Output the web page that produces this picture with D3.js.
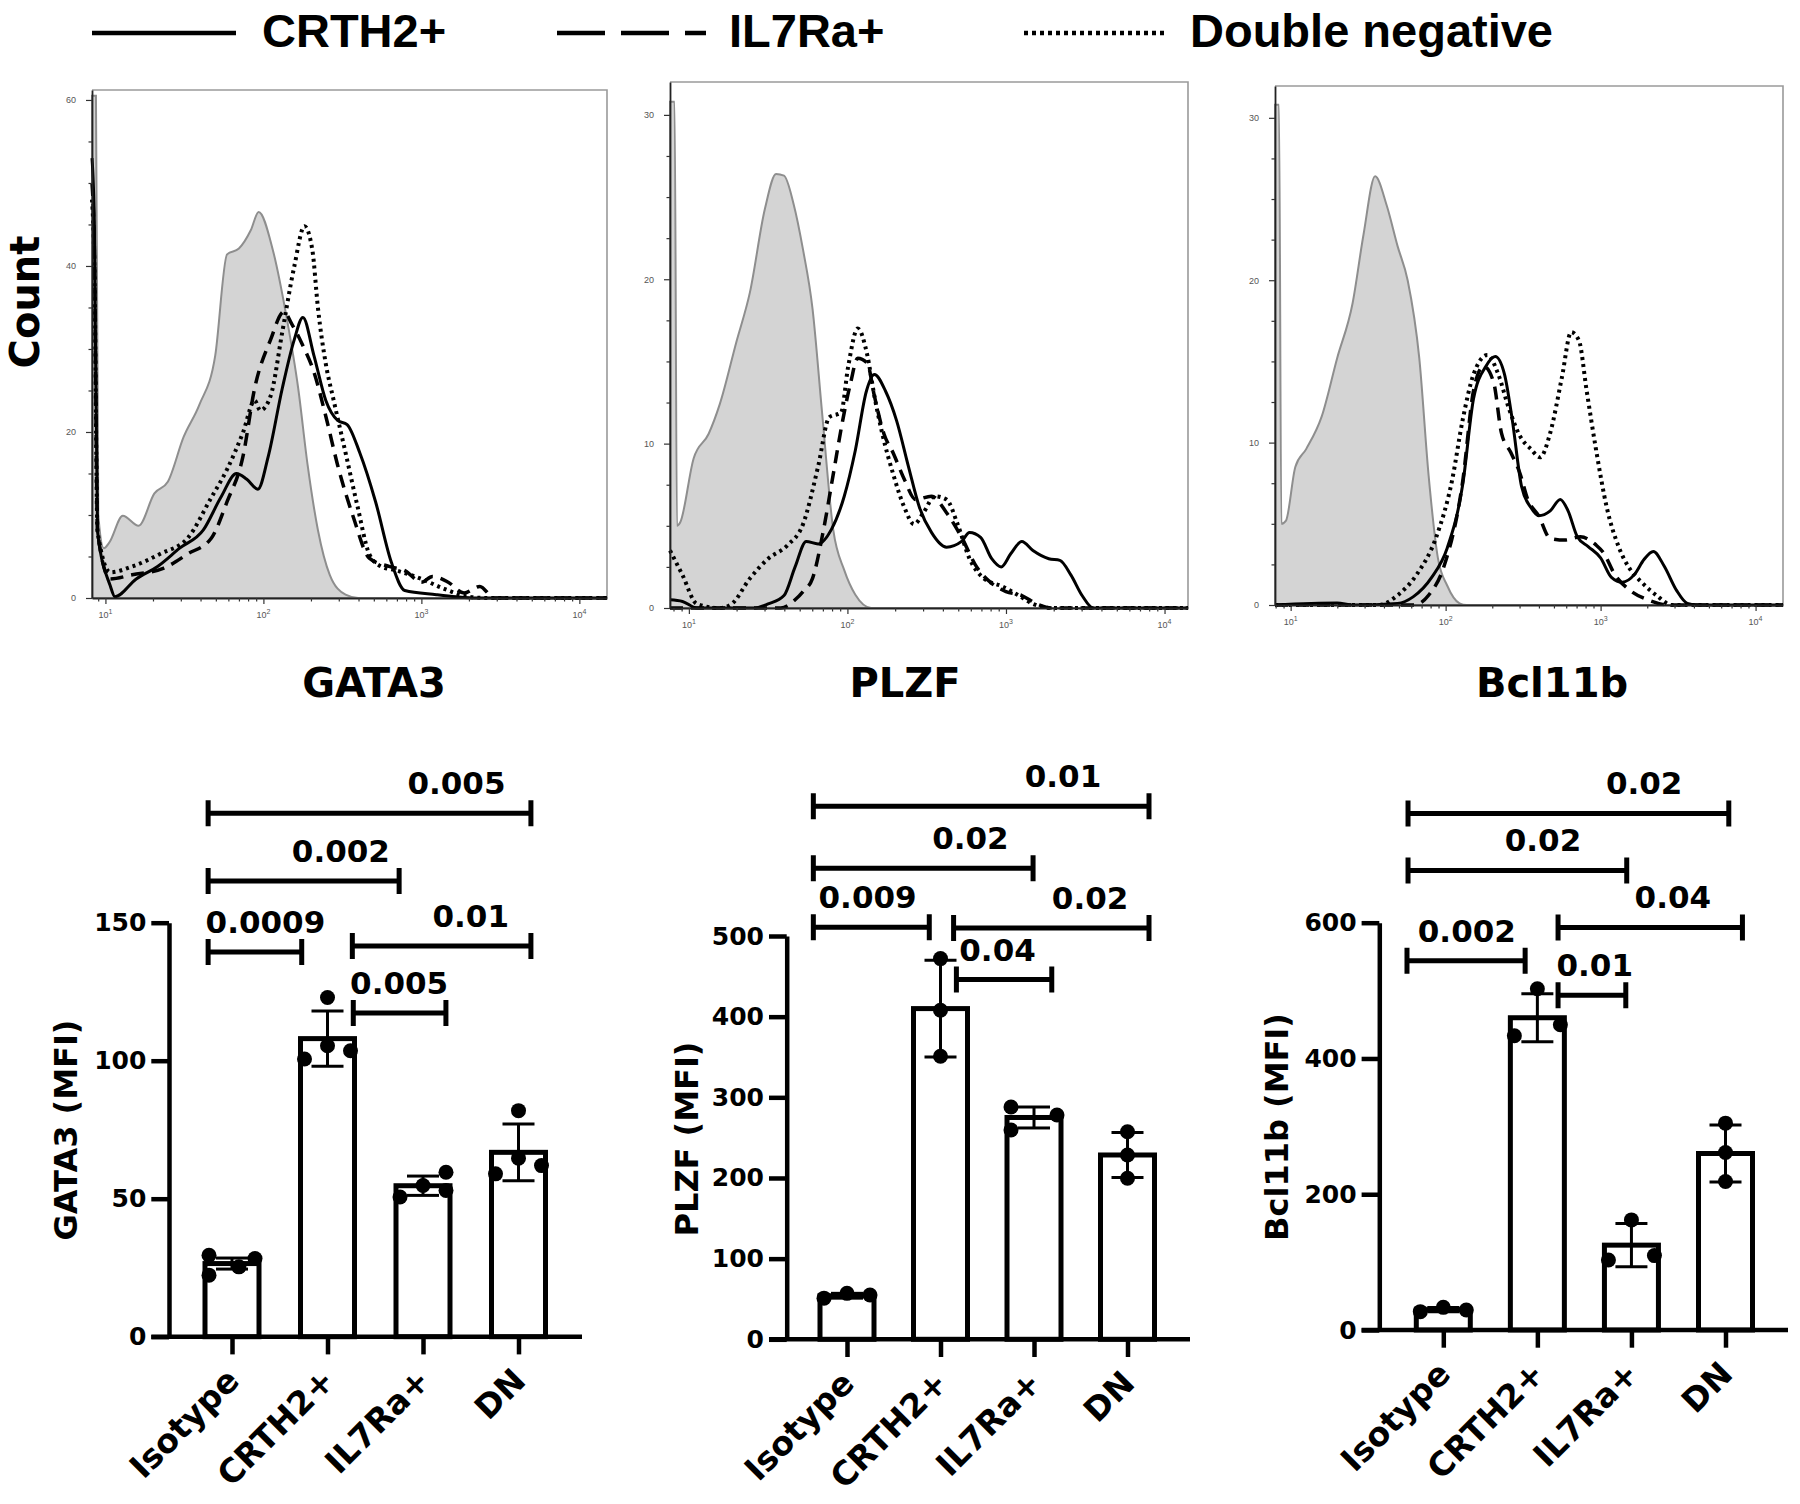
<!DOCTYPE html>
<html><head><meta charset="utf-8">
<script src="https://cdn.jsdelivr.net/npm/d3@7"></script>
<style>body{margin:0;background:#fff}</style>
</head><body>
<svg id="chart" width="1800" height="1504"></svg>
<script>
// ================= DATA =================
const seriesNames = ["CRTH2+", "IL7Ra+", "Double negative"];
const markers = ["GATA3", "PLZF", "Bcl11b"];
const categories = ["Isotype", "CRTH2+", "IL7Ra+", "DN"];

// Histogram tick labels
const histXTicks = [1, 2, 3, 4];                 // log10 decades
const histYTicks = [[0, 20, 40, 60], [0, 10, 20, 30], [0, 10, 20, 30]];

// Histograms: [log10 intensity, count]
const gata3Iso = [[0.915,60.5],[0.94,60.5],[0.955,10],[0.99,6],[1.025,6.7],[1.11,9.9],[1.21,8.7],[1.31,12.6],[1.395,14],[1.495,19.4],[1.595,23.3],[1.695,29.2],[1.77,41.4],[1.845,42.1],[1.92,44.3],[1.97,46.5],[2.06,41.9],[2.145,34],[2.22,25.3],[2.28,16],[2.345,8.2],[2.42,2.8],[2.52,0.4],[2.6,0],[4.175,0]];
const gata3Crth2 = [[0.915,53],[0.93,45],[0.95,8],[1.03,1.5],[1.06,0.15],[1.195,2.3],[1.33,3.8],[1.47,6],[1.62,8.2],[1.73,12.1],[1.83,15],[1.895,14.3],[1.965,13.1],[2.03,17],[2.12,25.3],[2.195,31.1],[2.25,33.8],[2.32,29.2],[2.395,23.8],[2.47,21.4],[2.53,20.9],[2.61,17.5],[2.71,11.6],[2.81,4.3],[2.895,0.9],[3.095,0.4],[3.22,0.15],[3.35,0],[4.175,0]];
const gata3Il7 = [[0.915,50],[0.93,42],[0.95,8],[1.03,2.3],[1.17,2.8],[1.37,3.6],[1.52,5.3],[1.67,7.2],[1.77,11.6],[1.87,17],[1.945,25.3],[2.045,31.1],[2.13,34.5],[2.18,33],[2.245,30.6],[2.32,27.2],[2.395,21.9],[2.47,16],[2.57,9.7],[2.67,4.8],[2.795,3.8],[2.895,3.3],[3.0,1.9],[3.07,2.6],[3.17,1.9],[3.27,0.6],[3.37,1.4],[3.46,0],[4.175,0]];
const gata3Dn = [[0.915,48],[0.93,40],[0.95,8],[1.03,3.1],[1.17,3.8],[1.345,5.3],[1.52,7.2],[1.67,12.1],[1.77,15.5],[1.87,19.9],[1.945,23.8],[1.98,22.6],[2.045,24.3],[2.12,32.1],[2.195,39.9],[2.26,44.8],[2.31,41.9],[2.345,35],[2.395,28.2],[2.445,23.8],[2.52,17.5],[2.595,11.1],[2.67,5.3],[2.745,3.8],[2.845,3.3],[3.0,2.3],[3.145,1.1],[3.3,0.15],[3.42,0],[4.175,0]];

const plzfIso = [[0.881,30.8],[0.91,30.8],[0.925,5.0],[0.945,5.2],[1.03,9.1],[1.125,10.6],[1.195,12.4],[1.30,16.2],[1.385,19.2],[1.48,24.3],[1.55,26.4],[1.6,26.3],[1.66,24.6],[1.72,21.8],[1.78,18.2],[1.84,11.9],[1.91,4.8],[1.98,2.3],[2.05,0.8],[2.15,0],[4.148,0]];
const plzfCrth2 = [[0.881,0.5],[0.96,0.4],[1.05,0],[1.41,0],[1.5,0.25],[1.6,0.76],[1.67,2.5],[1.74,4.05],[1.815,3.9],[1.9,4.8],[1.98,6.8],[2.05,9.6],[2.12,13.2],[2.17,14.2],[2.24,13.2],[2.31,11.4],[2.385,8.6],[2.455,6.1],[2.53,4.6],[2.625,3.7],[2.72,4.05],[2.77,4.6],[2.84,4.3],[2.91,3.0],[2.97,2.5],[3.03,3.3],[3.1,4.05],[3.17,3.5],[3.27,3.0],[3.34,2.9],[3.41,2.0],[3.48,0.76],[3.55,0],[4.148,0]];
const plzfIl7 = [[0.881,0],[1.58,0],[1.67,0.5],[1.72,1.0],[1.78,1.8],[1.85,4.8],[1.91,8.1],[1.97,11.4],[2.02,13.7],[2.065,15.2],[2.125,14.9],[2.17,12.9],[2.23,10.6],[2.29,9.4],[2.36,7.8],[2.43,6.6],[2.53,6.8],[2.625,5.8],[2.72,4.3],[2.815,2.5],[2.91,1.5],[3.0,1.0],[3.1,0.76],[3.195,0.25],[3.29,0],[4.148,0]];
const plzfDn = [[0.881,3.5],[0.96,2.0],[1.05,0.25],[1.195,0],[1.27,0.25],[1.385,1.8],[1.5,3.0],[1.62,3.8],[1.72,5.1],[1.815,8.6],[1.885,11.6],[1.96,11.9],[2.005,14.7],[2.065,17.0],[2.125,15.4],[2.17,12.9],[2.22,10.6],[2.29,8.1],[2.36,6.1],[2.42,5.1],[2.48,5.8],[2.55,6.8],[2.625,6.6],[2.695,5.1],[2.77,3.0],[2.86,1.8],[2.98,1.3],[3.08,0.76],[3.17,0.25],[3.29,0],[4.148,0]];

const bclIso = [[0.899,30.8],[0.925,30.8],[0.94,5.0],[0.97,5.2],[1.03,8.5],[1.10,9.6],[1.2,11.6],[1.3,15.2],[1.4,18.6],[1.47,22.8],[1.545,26.4],[1.62,24.6],[1.69,22.1],[1.755,20.0],[1.83,15.2],[1.89,8.0],[1.95,2.9],[2.01,1.2],[2.09,0.1],[2.135,0],[4.177,0]];
const bclCrth2 = [[0.899,0],[1.3,0.12],[1.4,0],[1.69,0.1],[1.79,0.5],[1.91,1.7],[2.01,3.5],[2.11,7.4],[2.18,12.7],[2.26,14.7],[2.32,15.3],[2.38,14.2],[2.43,11.4],[2.49,7.3],[2.55,6.0],[2.6,5.5],[2.675,5.8],[2.74,6.5],[2.79,5.8],[2.85,4.2],[2.92,3.6],[3.0,2.9],[3.07,1.7],[3.14,1.4],[3.22,1.9],[3.28,2.8],[3.34,3.3],[3.41,2.4],[3.49,0.9],[3.56,0.1],[3.63,0],[4.177,0]];
const bclIl7 = [[0.899,0],[1.8,0],[1.89,0.6],[1.99,2.4],[2.11,7.6],[2.18,13.2],[2.245,14.7],[2.31,13.7],[2.36,10.6],[2.42,9.4],[2.48,8.1],[2.53,6.5],[2.6,5.5],[2.675,4.1],[2.77,4.0],[2.87,4.2],[2.97,3.7],[3.02,3.2],[3.09,1.9],[3.19,0.9],[3.31,0.3],[3.44,0],[4.177,0]];
const bclDn = [[0.899,0],[1.57,0],[1.69,0.6],[1.815,1.9],[1.94,4.2],[2.04,7.6],[2.11,11.4],[2.18,14.2],[2.27,15.4],[2.34,14.2],[2.405,12.2],[2.48,10.4],[2.55,9.6],[2.61,9.1],[2.675,10.6],[2.75,14.0],[2.81,16.8],[2.86,16.3],[2.91,13.2],[2.97,9.6],[3.04,6.0],[3.12,3.5],[3.19,2.2],[3.265,1.4],[3.36,0.6],[3.46,0],[4.177,0]];

// Bar charts (MFI): means, SD and individual points [value, jitter column]
const barYTicks = [[0, 50, 100, 150], [0, 100, 200, 300, 400, 500], [0, 200, 400, 600]];
const barYLabels = ["GATA3 (MFI)", "PLZF (MFI)", "Bcl11b (MFI)"];

const gata3Mean = [26.5, 108, 54.7, 66.8];
const gata3SD = [2.0, 10, 3.5, 10.3];
const gata3Points = [
  [[29.5,-1],[22.3,-1],[25.3,0.3],[28.3,1]],
  [[122.9,0],[100.6,-1],[105.4,0],[103.6,1]],
  [[50.6,-1],[54.8,0],[59.6,1],[53.0,1]],
  [[81.9,0],[59.0,-1],[64.7,0],[62.0,1]]];

const plzfMean = [54, 410, 275, 228.5];
const plzfSD = [3, 60, 13, 28];
const plzfPoints = [
  [[51,-1],[57,0],[55,1]],
  [[472,0],[408,0],[351,0]],
  [[288,-1],[259.5,-1],[278,1]],
  [[257.4,0],[228.5,0],[199.6,0]]];

const bclMean = [30, 460, 125, 260];
const bclSD = [3, 35.5, 32, 42];
const bclPoints = [
  [[27,-1],[33.4,0],[29.5,1]],
  [[502.7,0],[433.4,-1],[449.6,1]],
  [[162.2,0],[103.2,-1],[109.6,1]],
  [[304.7,0],[261.4,0],[218.7,0]]];

// Significance brackets: [from (category index), to (category index), level (MFI), p label, label position (category index)]
const gata3Brackets = [
  [-0.25, 3.13, 189.7, "0.005", 2.35],
  [-0.25, 1.75, 165.1, "0.002", 1.14],
  [-0.25, 0.73, 139.4, "0.0009", 0.35],
  [1.26, 3.13, 141.6, "0.01", 2.50],
  [1.27, 2.24, 117.3, "0.005", 1.75]];
const plzfBrackets = [
  [-0.36, 3.23, 661, "0.01", 2.31],
  [-0.36, 1.99, 584, "0.02", 1.32],
  [-0.36, 0.88, 511, "0.009", 0.22],
  [1.14, 3.23, 510, "0.02", 2.60],
  [1.17, 2.19, 446, "0.04", 1.61]];
const bclBrackets = [
  [-0.375, 3.035, 761, "0.02", 2.135],
  [-0.375, 1.95, 677, "0.02", 1.06],
  [1.22, 3.18, 593, "0.04", 2.44],
  [-0.386, 0.87, 544, "0.002", 0.25],
  [1.22, 1.94, 493, "0.01", 1.61]];

// ================= DRAWING =================
const svg = d3.select("#chart");
const BOLD = "'DejaVu Sans', sans-serif";
const LEG = "'Liberation Sans', Arial, sans-serif";
const lineStyles = [
  {dash: null, width: 3},
  {dash: "13,8", width: 3.5},
  {dash: "3,4", width: 4}
];

// ---- Legend ----
const legendLayout = [[92, 236, 262], [557, 706, 729], [1024, 1165, 1190]];
const legendDash = [null, "48,16", "4,4"];
const leg = svg.append("g");
seriesNames.forEach((name, i) => {
  const [x1, x2, tx] = legendLayout[i];
  leg.append("line").attr("x1", x1).attr("x2", x2).attr("y1", 33).attr("y2", 33)
    .attr("stroke", "#000").attr("stroke-width", 4.5)
    .attr("stroke-dasharray", legendDash[i]);
  leg.append("text").attr("x", tx).attr("y", 47).text(name)
    .attr("font-family", LEG).attr("font-weight", "bold").attr("font-size", 47).attr("fill", "#000");
});

// ---- Histograms ----
const histLayout = [
  {left: 92, right: 607, top: 90, bottom: 598, xd: [0.915, 4.175], yMax: 61.2, minor: 5, titleX: 374},
  {left: 670, right: 1188, top: 82, bottom: 608, xd: [0.881, 4.148], yMax: 32, minor: 2.5, titleX: 905},
  {left: 1275, right: 1783, top: 86, bottom: 605, xd: [0.899, 4.177], yMax: 31.96, minor: 2.5, titleX: 1552}
];
const histData = [
  [gata3Iso, gata3Crth2, gata3Il7, gata3Dn],
  [plzfIso, plzfCrth2, plzfIl7, plzfDn],
  [bclIso, bclCrth2, bclIl7, bclDn]
];

histLayout.forEach((L, p) => {
  const g = svg.append("g");
  const x = d3.scaleLinear().domain(L.xd).range([L.left, L.right]);
  const y = d3.scaleLinear().domain([0, L.yMax]).range([L.bottom, L.top]);
  const [iso, ...lines] = histData[p];

  const area = d3.area().x(d => x(d[0])).y0(y(0)).y1(d => y(d[1])).curve(d3.curveMonotoneX);
  g.append("path").datum(iso).attr("d", area)
    .attr("fill", "#d4d4d4").attr("stroke", "#8e8e8e").attr("stroke-width", 2);

  // frame (top/right)
  g.append("path").attr("d", `M${L.left},${L.top}H${L.right}V${L.bottom}`)
    .attr("fill", "none").attr("stroke", "#9a9a9a").attr("stroke-width", 1.6);

  const line = d3.line().x(d => x(d[0])).y(d => y(d[1])).curve(d3.curveMonotoneX);
  lines.forEach((s, i) => {
    g.append("path").datum(s).attr("d", line).attr("fill", "none")
      .attr("stroke", "#000").attr("stroke-width", lineStyles[i].width)
      .attr("stroke-dasharray", lineStyles[i].dash).attr("stroke-linejoin", "round");
  });

  // x axis
  const minorX = [];
  for (let k = 0; k <= 4; k++) for (let m = 2; m <= 9; m++) {
    const v = k + Math.log10(m);
    if (v > L.xd[0] && v < L.xd[1]) minorX.push(v);
  }
  const xa = g.append("g").attr("transform", `translate(0,${L.bottom})`)
    .call(d3.axisBottom(x).tickValues(histXTicks).tickSize(6).tickSizeOuter(0).tickFormat(""));
  g.append("g").attr("transform", `translate(0,${L.bottom})`)
    .call(d3.axisBottom(x).tickValues(minorX).tickSize(3.5).tickSizeOuter(0).tickFormat(""))
    .select(".domain").remove();
  xa.select(".domain").attr("stroke", "#222").attr("stroke-width", 1.8);
  g.selectAll(".tick line").attr("stroke", "#333").attr("stroke-width", 1.2);
  histXTicks.forEach(t => {
    const tx = g.append("text").attr("x", x(t)).attr("y", L.bottom + 20)
      .attr("text-anchor", "middle").attr("font-family", LEG).attr("font-size", 9).attr("fill", "#555");
    tx.append("tspan").text("10");
    tx.append("tspan").attr("dy", -4).attr("font-size", 7).text(t);
  });

  // y axis
  const ya = g.append("g").attr("transform", `translate(${L.left},0)`)
    .call(d3.axisLeft(y).tickValues(histYTicks[p]).tickSize(6).tickSizeOuter(0).tickPadding(10));
  ya.select(".domain").attr("stroke", "#222").attr("stroke-width", 1.8);
  ya.selectAll("text").attr("font-family", LEG).attr("font-size", 9).attr("fill", "#555");
  const minorY = d3.range(0, L.yMax, L.minor).filter(v => !histYTicks[p].includes(v));
  g.append("g").attr("transform", `translate(${L.left},0)`)
    .call(d3.axisLeft(y).tickValues(minorY).tickSize(3.5).tickFormat(""))
    .select(".domain").remove();
  g.selectAll(".tick line").attr("stroke", "#333").attr("stroke-width", 1.2);

  // title
  g.append("text").attr("x", L.titleX).attr("y", 697).attr("text-anchor", "middle")
    .attr("font-family", BOLD).attr("font-weight", "bold").attr("font-size", 40).text(markers[p]);
});

// Count label
svg.append("text").attr("transform", "translate(25,302) rotate(-90)").attr("dy", "0.36em")
  .attr("text-anchor", "middle").attr("font-family", BOLD).attr("font-weight", "bold")
  .attr("font-size", 40).text("Count");

// ---- Bar charts ----
const barLayout = [
  {axisX: 169, y0: 1336.7, yTop: 922.7, yMax: 150, c0: 232, c3: 518.5, right: 582, labelX: 65, labelY: 1130},
  {axisX: 786.7, y0: 1339.3, yTop: 936, yMax: 500, c0: 847, c3: 1127.5, right: 1190, labelX: 686, labelY: 1139},
  {axisX: 1379.3, y0: 1330, yTop: 922.7, yMax: 600, c0: 1443.3, c3: 1725.5, right: 1788, labelX: 1276, labelY: 1127}
];
const barData = [
  {mean: gata3Mean, sd: gata3SD, pts: gata3Points, br: gata3Brackets},
  {mean: plzfMean, sd: plzfSD, pts: plzfPoints, br: plzfBrackets},
  {mean: bclMean, sd: bclSD, pts: bclPoints, br: bclBrackets}
];
const TICK = 17.7, AX = 4.5;

barLayout.forEach((L, p) => {
  const D = barData[p];
  const g = svg.append("g");
  const x = d3.scalePoint().domain(categories).range([L.c0, L.c3]);
  const y = d3.scaleLinear().domain([0, L.yMax]).range([L.y0, L.yTop]);
  const step = x.step();
  const ix = v => x(categories[0]) + v * step;
  const jit = 23;

  // bars
  g.selectAll("rect.bar").data(categories).join("rect").attr("class", "bar")
    .attr("x", d => x(d) - 27).attr("width", 54)
    .attr("y", (d, i) => y(D.mean[i])).attr("height", (d, i) => y(0) - y(D.mean[i]))
    .attr("fill", "#fff").attr("stroke", "#000").attr("stroke-width", 5);

  // error bars
  categories.forEach((c, i) => {
    const hi = y(D.mean[i] + D.sd[i]), lo = y(D.mean[i] - D.sd[i]);
    g.append("line").attr("x1", x(c)).attr("x2", x(c)).attr("y1", hi).attr("y2", lo)
      .attr("stroke", "#000").attr("stroke-width", 3);
    [hi, lo].forEach(yy => g.append("line").attr("x1", x(c) - 16).attr("x2", x(c) + 16)
      .attr("y1", yy).attr("y2", yy).attr("stroke", "#000").attr("stroke-width", 3));
  });

  // points
  categories.forEach((c, i) => {
    g.selectAll(null).data(D.pts[i]).join("circle")
      .attr("cx", d => x(c) + d[1] * jit).attr("cy", d => y(d[0])).attr("r", 7.5).attr("fill", "#000");
  });

  // y axis
  const ya = g.append("g").attr("transform", `translate(${L.axisX},0)`)
    .call(d3.axisLeft(y).tickValues(barYTicks[p]).tickSize(TICK).tickSizeOuter(0).tickPadding(5));
  ya.select(".domain").attr("stroke", "#000").attr("stroke-width", AX);
  ya.selectAll(".tick line").attr("stroke", "#000").attr("stroke-width", AX);
  ya.selectAll("text").attr("font-family", BOLD).attr("font-weight", "bold").attr("font-size", 25).attr("fill", "#000");

  // x axis
  const xa = g.append("g").attr("transform", `translate(0,${L.y0})`)
    .call(d3.axisBottom(x).tickSize(TICK).tickSizeOuter(0).tickFormat(""));
  xa.select(".domain").remove();
  xa.selectAll(".tick line").attr("stroke", "#000").attr("stroke-width", AX);
  g.append("line").attr("x1", L.axisX - TICK).attr("x2", L.right).attr("y1", L.y0).attr("y2", L.y0)
    .attr("stroke", "#000").attr("stroke-width", AX);

  // category labels
  categories.forEach(c => {
    g.append("text").attr("transform", `translate(${x(c) + 9},${L.y0 + 46}) rotate(-45)`)
      .attr("text-anchor", "end").attr("font-family", BOLD).attr("font-weight", "bold")
      .attr("font-size", 33).text(c);
  });

  // y label
  g.append("text").attr("transform", `translate(${L.labelX},${L.labelY}) rotate(-90)`).attr("dy", "0.36em")
    .attr("text-anchor", "middle").attr("font-family", BOLD).attr("font-weight", "bold")
    .attr("font-size", 32).text(barYLabels[p]);

  // brackets
  D.br.forEach(([a, b, lvl, lab, lx]) => {
    const yy = y(lvl);
    g.append("path").attr("d", `M${ix(a)},${yy - 13}V${yy + 13}M${ix(a)},${yy}H${ix(b)}M${ix(b)},${yy - 13}V${yy + 13}`)
      .attr("fill", "none").attr("stroke", "#000").attr("stroke-width", 5);
    g.append("text").attr("x", ix(lx)).attr("y", yy - 19).attr("text-anchor", "middle")
      .attr("font-family", BOLD).attr("font-weight", "bold").attr("font-size", 31).text(lab);
  });
});
</script>
</body></html>
